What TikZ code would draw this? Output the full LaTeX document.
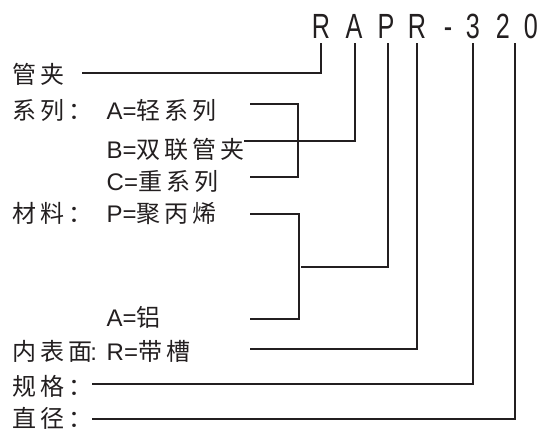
\documentclass[tikz,border=0pt]{standalone}
\usepackage{fontspec}
\setmainfont{Liberation Sans}
\newfontfamily\cjk[LetterSpace=17]{Noto Sans CJK SC}
\usepackage{graphicx}
\definecolor{ink}{HTML}{231F20}
\begin{document}
\begin{tikzpicture}[x=1pt,y=-1pt,
  lbl/.style={anchor=base west,inner sep=0pt,font=\fontsize{24}{24}\selectfont,text=ink},
  codeletter/.style={anchor=base,inner sep=0pt,font=\fontsize{35}{35}\selectfont,text=ink},
  wire/.style={draw=ink,line width=1.8pt}]
\useasboundingbox (0,0) rectangle (542,430);

% code letters
\node[codeletter] (c1) at (321,38.3) {\scalebox{0.72}[1]{R}};
\node[codeletter] (c2) at (354,38.3) {\scalebox{0.72}[1]{A}};
\node[codeletter] (c3) at (386,38.3) {\scalebox{0.72}[1]{P}};
\node[codeletter] (c4) at (417,38.3) {\scalebox{0.72}[1]{R}};
\node[codeletter] (c5) at (448,38.3) {\scalebox{0.72}[1]{-}};
\node[codeletter] (c6) at (473,38.3) {\scalebox{0.72}[1]{3}};
\node[codeletter] (c7) at (503,38.3) {\scalebox{0.72}[1]{2}};
\node[codeletter] (c8) at (531,38.3) {\scalebox{0.72}[1]{0}};

% labels
\node[lbl] (gj) at (12,83.5) {\cjk 管夹};
\node[lbl] (xl) at (12,120) {\cjk 系列：};
\node[lbl] (sa) at (106.5,120) {A=\cjk 轻系列};
\node[lbl] (sb) at (106.5,159) {B=\cjk 双联管夹};
\node[lbl] (sc) at (106.5,191) {C=\cjk 重系列};
\node[lbl] (cl) at (12,223) {\cjk 材料：};
\node[lbl] (mp) at (106.5,223) {P=\cjk 聚丙烯};
\node[lbl] (ma) at (106.5,326.5) {A=\cjk 铝};
\node[lbl] (nb) at (12,361) {{\cjk 内表面}\hspace{-2pt}:};
\node[lbl] (sr) at (106.5,361) {R=\cjk 带槽};
\node[lbl] (gg) at (12,395.5) {\cjk 规格：};
\node[lbl] (zj) at (12,427.5) {\cjk 直径：};

% line tops
\coordinate (t1) at (321,43);
\coordinate (t2) at (355,43);
\coordinate (t3) at (388,43);
\coordinate (t4) at (417,43);
\coordinate (t6) at (473,43);
\coordinate (t7) at (515,43);

% line starts
\coordinate (gjE) at (82,72.7);
\coordinate (saE) at (250,104);
\coordinate (sbE) at (244,140.7);
\coordinate (scE) at (250,176.7);
\coordinate (br1) at (298,104);
\coordinate (br1b) at (298,176.7);
\coordinate (mpE) at (250,214);
\coordinate (maE) at (250,319.3);
\coordinate (br2) at (299,214);
\coordinate (br2b) at (299,319.3);
\coordinate (mid) at (301,266.7);
\coordinate (srE) at (250,349.3);
\coordinate (ggE) at (92,384.3);
\coordinate (zjE) at (92,419.3);

\draw[wire] (gjE) -| (t1);
\draw[wire] (saE) -- (br1) -- (br1b) -- (scE);
\draw[wire] (sbE) -| (t2);
\draw[wire] (mpE) -- (br2) -- (br2b) -- (maE);
\draw[wire] (mid) -| (t3);
\draw[wire] (srE) -| (t4);
\draw[wire] (ggE) -| (t6);
\draw[wire] (zjE) -| (t7);
\end{tikzpicture}
\end{document}
